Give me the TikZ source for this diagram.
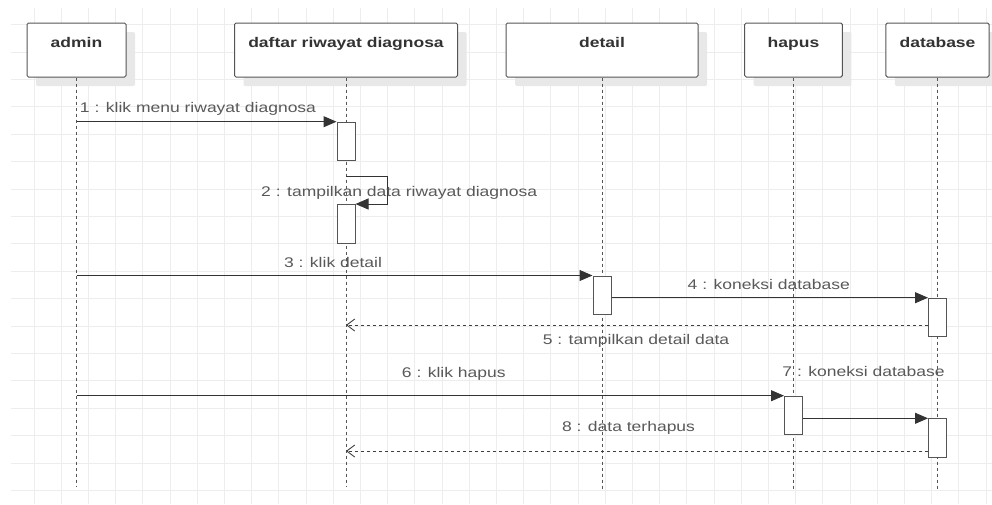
\documentclass[tikz,border=0pt]{standalone}
\usepackage{fontspec}
\setmainfont{Liberation Sans}
\newfontfamily\umlfont[FakeStretch=1.25]{Liberation Sans}
\usetikzlibrary{arrows.meta,shadows}

\definecolor{gridgray}{HTML}{EDEDED}
\definecolor{linegray}{HTML}{555555}
\definecolor{txtgray}{HTML}{595959}
\definecolor{shadowgray}{HTML}{E8E8E8}

\tikzset{
  gridline/.style={draw=gridgray, line width=0.8pt},
  actor/.style={draw=linegray, fill=white, line width=1pt, rounded corners=1.5pt,
    minimum height=54pt, text height=10pt, text depth=15pt, inner sep=0pt,
    font=\umlfont\bfseries\fontsize{14}{16}\selectfont, text=black!80,
    drop shadow={shadow xshift=9pt, shadow yshift=-9pt, fill=shadowgray, opacity=1}},
  lifeline/.style={draw=linegray, line width=1pt, dash pattern=on 3pt off 3pt},
  act/.style={draw=linegray, fill=white, line width=1pt, minimum width=18pt,
    minimum height=38.5pt, inner sep=0pt, anchor=north},
  msg/.style={draw=black!80, line width=1pt, -{Triangle[length=13pt,width=11pt]}},
  reply/.style={draw=black!75, line width=0.9pt, dash pattern=on 3pt off 3pt,
    -{Straight Barb[length=8pt,width=12pt]}},
  lbl/.style={font=\umlfont\fontsize{14}{16}\selectfont, text=txtgray, inner sep=0pt, anchor=base}
}

\begin{document}
\begin{tikzpicture}[x=1pt,y=-1pt]
\useasboundingbox (0,0) rectangle (992,504);
\fill[white] (0,0) rectangle (992,504);

% background grid
\foreach \i in {1,...,36}
  \draw[gridline] ({6.8+27.2*\i},8) -- ({6.8+27.2*\i},504);
\foreach \j in {0,...,17}
  \draw[gridline] (11,{24.5+27.4*\j}) -- (992,{24.5+27.4*\j});

% objects
\node[actor, minimum width=99pt] (admin) at (76.5,50) {admin};
\node[actor, minimum width=223pt] (daftar) at (346,50) {daftar riwayat diagnosa};
\node[actor, minimum width=192pt] (detail) at (602,50) {detail};
\node[actor, minimum width=97.6pt] (hapus) at (793.5,50) {hapus};
\node[actor, minimum width=103.3pt] (database) at (937.5,50) {database};

% lifelines
\coordinate (admin-end) at (admin |- 0,487);
\coordinate (daftar-end) at (daftar |- 0,487);
\coordinate (detail-end) at (detail |- 0,490);
\coordinate (hapus-end) at (hapus |- 0,490);
\coordinate (database-end) at (database |- 0,490);
\draw[lifeline] (admin) -- (admin-end);
\draw[lifeline] (daftar) -- (daftar-end);
\draw[lifeline] (detail) -- (detail-end);
\draw[lifeline] (hapus) -- (hapus-end);
\draw[lifeline] (database) -- (database-end);

% activations
\node[act] (a1) at (daftar |- 0,121.7) {};
\node[act] (a2) at (daftar |- 0,204) {};
\node[act] (a3) at (detail |- 0,275.5) {};
\node[act] (a4) at (database |- 0,297.7) {};
\node[act] (a6) at (hapus |- 0,395.7) {};
\node[act] (a7) at (database |- 0,418.3) {};

% messages
\coordinate (self) at (387.3,176.7);
\draw[msg] (admin |- a1.north) -- (a1.north west);
\draw[msg] (a1.south |- self) -- (self) |- (a2.north east);
\draw[msg] (admin |- a3.north) -- (a3.north west);
\draw[msg] (a3.east |- a4.north) -- (a4.north west);
\draw[reply] (a4.west |- 0,325) -- (daftar |- 0,325);
\draw[msg] (admin |- a6.north) -- (a6.north west);
\draw[msg] (a6.east |- a7.north) -- (a7.north west);
\draw[reply] (a7.west |- 0,451) -- (daftar |- 0,451);

% message labels
\node[lbl] (l1) at (198,112.7) {1 : klik menu riwayat diagnosa};
\node[lbl] (l2) at (399.2,196) {2 : tampilkan data riwayat diagnosa};
\node[lbl] (l3) at (333,267.3) {3 : klik detail};
\node[lbl] (l4) at (768.8,289) {4 : koneksi database};
\node[lbl] (l5) at (636,344) {5 : tampilkan detail data};
\node[lbl] (l6) at (453.8,377) {6 : klik hapus};
\node[lbl] (l7) at (863.5,376) {7 : koneksi database};
\node[lbl] (l8) at (628.5,431) {8 : data terhapus};
\end{tikzpicture}
\end{document}
